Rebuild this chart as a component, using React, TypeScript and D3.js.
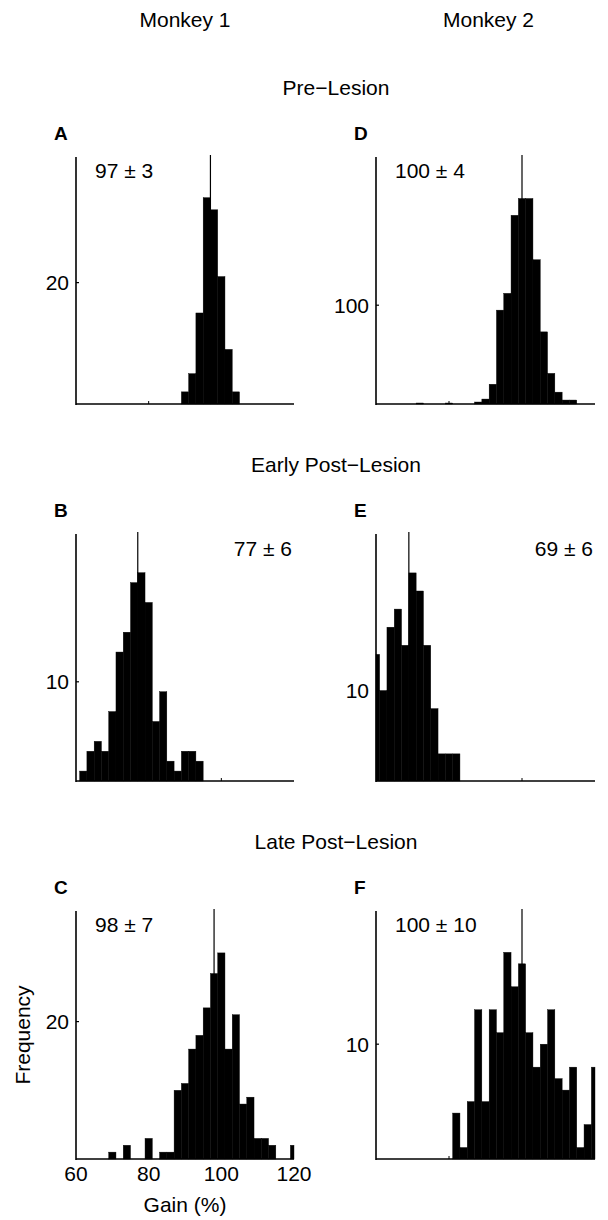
import React from 'react';
import * as d3 from 'd3';

const width = 608;
const height = 1220;
const font = '"Liberation Sans", Arial, Helvetica, sans-serif';

// gain bins are 2% wide, values are bin centres
const gainDomain = [60, 120];
const binWidth = 2;
const gainTicks = [60, 80, 100, 120];

// Monkey 1
const binsA = [90, 92, 94, 96, 98, 100, 102, 104];
const countsA = [2, 5, 15, 34, 32, 21, 9, 2];
const binsB = [62, 64, 66, 68, 70, 72, 74, 76, 78, 80, 82, 84, 86, 88, 90, 92, 94];
const countsB = [1, 3, 4, 3, 7, 13, 15, 20, 21, 18, 6, 9, 2, 1, 3, 3, 2];
const binsC = [70, 74, 80, 84, 86, 88, 90, 92, 94, 96, 98, 100, 102, 104, 106, 108, 110, 112, 114, 120];
const countsC = [1, 2, 3, 1, 1, 10, 11, 16, 18, 22, 27, 30, 16, 21, 8, 9, 3, 3, 2, 2];

// Monkey 2
const binsD = [72, 80, 88, 90, 92, 94, 96, 98, 100, 102, 104, 106, 108, 110, 112, 114];
const countsD = [1, 1, 2, 5, 20, 95, 112, 191, 208, 208, 146, 73, 31, 12, 4, 4];
const binsE = [60, 62, 64, 66, 68, 70, 72, 74, 76, 78, 80, 82];
const countsE = [14, 10, 17, 19, 15, 23, 21, 15, 8, 3, 3, 3];
const binsF = [82, 84, 86, 88, 90, 92, 94, 96, 98, 100, 102, 104, 106, 108, 110, 112, 114, 116, 118, 120];
const countsF = [4, 1, 5, 13, 5, 13, 11, 18, 15, 17, 11, 8, 10, 13, 7, 6, 8, 1, 3, 8];

const monkeys = ['Monkey 1', 'Monkey 2'];
const phases = ['Pre\u2212Lesion', 'Early Post\u2212Lesion', 'Late Post\u2212Lesion'];

const panels = [
  { id: 'A', col: 0, row: 0, bins: binsA, counts: countsA, mean: 97, sd: 3, yMax: 40.7, yTick: 20, statRight: false },
  { id: 'B', col: 0, row: 1, bins: binsB, counts: countsB, mean: 77, sd: 6, yMax: 24.9, yTick: 10, statRight: true },
  { id: 'C', col: 0, row: 2, bins: binsC, counts: countsC, mean: 98, sd: 7, yMax: 36.1, yTick: 20, statRight: false },
  { id: 'D', col: 1, row: 0, bins: binsD, counts: countsD, mean: 100, sd: 4, yMax: 250, yTick: 100, statRight: false },
  { id: 'E', col: 1, row: 1, bins: binsE, counts: countsE, mean: 69, sd: 6, yMax: 27.3, yTick: 10, statRight: true },
  { id: 'F', col: 1, row: 2, bins: binsF, counts: countsF, mean: 100, sd: 10, yMax: 21.6, yTick: 10, statRight: false },
];

const cols = [{ x0: 76, x1: 294 }, { x0: 376, x1: 595 }];
const rows = [{ top: 157, base: 404 }, { top: 534, base: 781 }, { top: 911, base: 1159 }];
const fs = 21;

function Panel({ p }) {
  const c = cols[p.col];
  const r = rows[p.row];
  const x = d3.scaleLinear().domain(gainDomain).range([c.x0, c.x1]);
  const y = d3.scaleLinear().domain([0, p.yMax]).range([r.base, r.top]);
  const showGain = p.id === 'C';
  const stat = `${p.mean} \u00b1 ${p.sd}`;
  return (
    <g>
      <text x={c.x0 - 22} y={r.top - 17} fontSize={19} fontWeight="bold">{p.id}</text>
      {p.bins.map((b, i) => {
        const lo = Math.max(b - binWidth / 2, gainDomain[0]);
        const hi = Math.min(b + binWidth / 2, gainDomain[1]);
        return (
          <rect key={i} x={x(lo)} y={y(p.counts[i])} width={x(hi) - x(lo)}
            height={r.base - y(p.counts[i])} fill="#000" stroke="#000" strokeWidth={0.4} />
        );
      })}
      <line x1={x(p.mean)} x2={x(p.mean)} y1={r.top - 2} y2={r.base} stroke="#000" strokeWidth={1.2} />
      <line x1={c.x0} x2={c.x0} y1={r.top} y2={r.base + 1} stroke="#000" strokeWidth={1.6} />
      <line x1={c.x0} x2={c.x1} y1={r.base} y2={r.base} stroke="#000" strokeWidth={1.6} />
      <line x1={c.x0} x2={c.x0 + 3} y1={y(p.yTick)} y2={y(p.yTick)} stroke="#000" strokeWidth={1.2} />
      <text x={c.x0 - 7} y={y(p.yTick)} dy="0.35em" textAnchor="end" fontSize={fs}>{p.yTick}</text>
      {gainTicks.slice(1, -1).map(t => (
        <line key={t} x1={x(t)} x2={x(t)} y1={r.base} y2={r.base - 3} stroke="#000" strokeWidth={1} />
      ))}
      {p.statRight
        ? <text x={c.x1 - 2} y={r.top + 15} dy="0.35em" textAnchor="end" fontSize={fs}>{stat}</text>
        : <text x={c.x0 + 19} y={r.top + 14} dy="0.35em" fontSize={fs}>{stat}</text>}
      {showGain && gainTicks.map(t => (
        <text key={t} x={x(t)} y={r.base + 22} textAnchor="middle" fontSize={fs}>{t}</text>
      ))}
      {showGain && (
        <text x={(c.x0 + c.x1) / 2} y={r.base + 53} textAnchor="middle" fontSize={fs}>Gain (%)</text>
      )}
      {showGain && (
        <text transform={`translate(${c.x0 - 46},${(r.top + r.base) / 2}) rotate(-90)`} textAnchor="middle" fontSize={fs}>Frequency</text>
      )}
    </g>
  );
}

export default function App() {
  return (
    <svg width={width} height={height} style={{ position: 'absolute', left: 0, top: 0, background: '#fff' }}
      fontFamily={font}>
      {monkeys.map((m, i) => (
        <text key={m} x={(cols[i].x0 + cols[i].x1) / 2 + i * 3} y={27} textAnchor="middle" fontSize={fs}>{m}</text>
      ))}
      {phases.map((ph, i) => (
        <text key={ph} x={336} y={rows[i].top - 62} textAnchor="middle" fontSize={fs}>{ph}</text>
      ))}
      {panels.map(p => <Panel key={p.id} p={p} />)}
    </svg>
  );
}
